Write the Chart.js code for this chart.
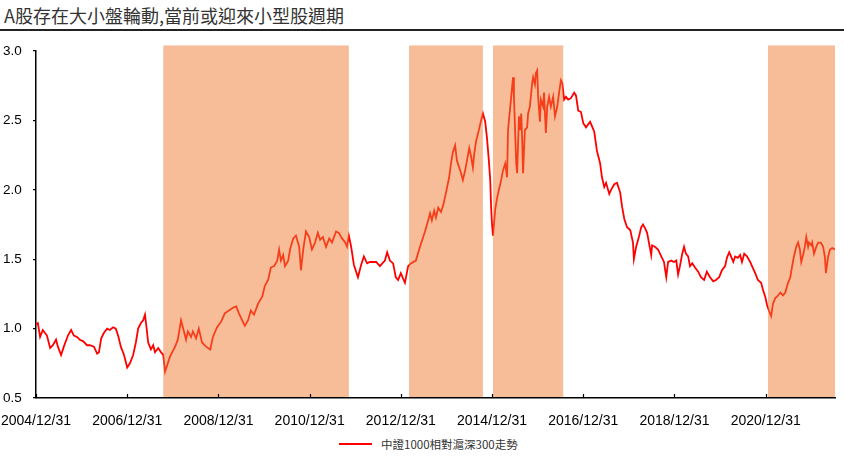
<!DOCTYPE html>
<html lang="zh-Hant">
<head>
  <meta charset="UTF-8" />
  <title>A股存在大小盤輪動,當前或迎來小型股週期</title>
  <script src="https://cdn.jsdelivr.net/npm/chart.js"></script>
  <style>
    html, body { margin: 0; padding: 0; background: #fff; }
    body {
      width: 844px; height: 457px; position: relative; overflow: hidden;
      font-family: 'Noto Sans CJK TC', 'Noto Sans', sans-serif;
    }
    .title {
      position: absolute; left: 4px; top: 4px;
      font-size: 18px; line-height: 22px; color: #333; white-space: nowrap;
    }
    .rule { position: absolute; left: 0; top: 29px; width: 844px; height: 2px; background: #222; }
    .chart-box { position: absolute; left: 0; top: 31px; width: 844px; height: 396px; }
    .legend {
      position: absolute; left: 339px; top: 434px; height: 20px;
      display: flex; align-items: center; font-size: 11.5px; color: #333; white-space: nowrap;
    }
    .legend .swatch { width: 33px; height: 2px; background: #f00; margin-right: 9px; }
  </style>
</head>
<body>

  <div class="title">A股存在大小盤輪動,當前或迎來小型股週期</div>
  <div class="rule"></div>

  <div class="chart-box">
    <canvas id="ratioChart"></canvas>
  </div>

  <div class="legend"><span class="swatch"></span><span id="legendText"></span></div>

  <script>
    // x values are decimal years: 2005.00 = 2004/12/31
    const seriesName = '中證1000相對滬深300走勢';

    const years = [
      2005.00, 2005.04, 2005.09, 2005.15, 2005.24, 2005.31, 2005.37, 2005.44, 2005.48, 2005.55, 2005.61, 2005.70, 2005.77, 2005.83, 2005.90, 2005.96,
      2006.03, 2006.12, 2006.18, 2006.27, 2006.34, 2006.38, 2006.43, 2006.49, 2006.56, 2006.62, 2006.69, 2006.75, 2006.80, 2006.86, 2006.93,
      2007.00, 2007.06, 2007.13, 2007.19, 2007.24, 2007.30, 2007.35, 2007.39, 2007.43, 2007.46, 2007.52, 2007.57, 2007.61, 2007.68, 2007.74, 2007.79, 2007.83, 2007.94,
      2008.05, 2008.11, 2008.18, 2008.22, 2008.29, 2008.33, 2008.40, 2008.44, 2008.51, 2008.57, 2008.64, 2008.73, 2008.82, 2008.88, 2008.97,
      2009.06, 2009.14, 2009.23, 2009.32, 2009.39, 2009.45, 2009.52, 2009.58, 2009.65, 2009.71, 2009.78, 2009.87, 2009.96,
      2010.02, 2010.09, 2010.15, 2010.22, 2010.29, 2010.33, 2010.37, 2010.42, 2010.46, 2010.53, 2010.57, 2010.64, 2010.70, 2010.77, 2010.81, 2010.86, 2010.92, 2010.99,
      2011.05, 2011.12, 2011.18, 2011.23, 2011.29, 2011.36, 2011.43, 2011.49, 2011.58, 2011.64, 2011.71, 2011.78, 2011.82, 2011.86, 2011.91, 2011.97,
      2012.06, 2012.13, 2012.19, 2012.26, 2012.32, 2012.39, 2012.46, 2012.54, 2012.65, 2012.70, 2012.76, 2012.83, 2012.89, 2012.94,
      2013.00, 2013.05, 2013.09, 2013.16, 2013.22, 2013.33, 2013.42, 2013.49, 2013.53, 2013.60, 2013.64, 2013.68, 2013.73, 2013.77, 2013.82, 2013.88, 2013.93, 2013.99,
      2014.06, 2014.10, 2014.14, 2014.19, 2014.23, 2014.28, 2014.32, 2014.36, 2014.41, 2014.45, 2014.50, 2014.54, 2014.58, 2014.61, 2014.65, 2014.71, 2014.76, 2014.80, 2014.85, 2014.89, 2014.93, 2014.96, 2014.98,
      2015.00, 2015.02, 2015.07, 2015.11, 2015.15, 2015.20, 2015.24, 2015.29, 2015.33, 2015.35, 2015.42, 2015.46, 2015.48, 2015.53, 2015.55, 2015.59, 2015.61, 2015.64, 2015.66, 2015.68, 2015.72, 2015.77, 2015.79, 2015.83, 2015.88, 2015.90, 2015.94, 2015.96, 2015.99,
      2016.01, 2016.05, 2016.07, 2016.12, 2016.14, 2016.18, 2016.21, 2016.25, 2016.29, 2016.34, 2016.38, 2016.43, 2016.47, 2016.51, 2016.54, 2016.58, 2016.62, 2016.67, 2016.73, 2016.80, 2016.84, 2016.89, 2016.95,
      2017.00, 2017.06, 2017.15, 2017.24, 2017.30, 2017.37, 2017.41, 2017.46, 2017.50, 2017.57, 2017.61, 2017.68, 2017.74, 2017.81, 2017.85, 2017.90, 2017.96,
      2018.03, 2018.09, 2018.11, 2018.16, 2018.22, 2018.27, 2018.31, 2018.36, 2018.40, 2018.44, 2018.49, 2018.51, 2018.57, 2018.64, 2018.71, 2018.77, 2018.82, 2018.86, 2018.93, 2018.99,
      2019.04, 2019.08, 2019.12, 2019.17, 2019.21, 2019.25, 2019.30, 2019.34, 2019.39, 2019.45, 2019.52, 2019.58, 2019.65, 2019.71, 2019.78, 2019.85, 2019.91, 2019.98,
      2020.04, 2020.11, 2020.15, 2020.20, 2020.24, 2020.29, 2020.33, 2020.39, 2020.44, 2020.48, 2020.53, 2020.59, 2020.66, 2020.70, 2020.77, 2020.83, 2020.90, 2020.94, 2020.99,
      2021.03, 2021.07, 2021.12, 2021.16, 2021.21, 2021.25, 2021.32, 2021.38, 2021.43, 2021.49, 2021.54, 2021.58, 2021.62, 2021.67, 2021.71, 2021.75, 2021.78, 2021.82, 2021.86, 2021.89, 2021.93, 2021.95, 2022.00,
      2022.02, 2022.06, 2022.11, 2022.15, 2022.21, 2022.26, 2022.30, 2022.32, 2022.37, 2022.41, 2022.46, 2022.52
    ];

    const ratio = [
      1.03, 1.04, 0.94, 0.99, 0.95, 0.86, 0.88, 0.92, 0.87, 0.81, 0.87, 0.95, 0.99, 0.95, 0.94, 0.92,
      0.91, 0.88, 0.88, 0.87, 0.82, 0.83, 0.93, 0.97, 1.00, 0.99, 1.01, 1.00, 0.95, 0.87, 0.81,
      0.72, 0.75, 0.81, 0.90, 1.00, 1.04, 1.06, 1.10, 0.99, 0.90, 0.85, 0.88, 0.83, 0.86, 0.83, 0.81, 0.69, 0.80,
      0.87, 0.92, 1.06, 1.01, 0.92, 0.98, 0.94, 0.98, 0.93, 1.00, 0.90, 0.87, 0.85, 0.94, 1.01,
      1.05, 1.11, 1.13, 1.15, 1.16, 1.11, 1.06, 1.02, 1.06, 1.13, 1.10, 1.18, 1.23,
      1.31, 1.35, 1.44, 1.45, 1.49, 1.57, 1.49, 1.53, 1.45, 1.49, 1.57, 1.65, 1.67, 1.59, 1.42, 1.57, 1.70, 1.66,
      1.57, 1.62, 1.69, 1.64, 1.66, 1.59, 1.65, 1.62, 1.70, 1.69, 1.65, 1.62, 1.59, 1.67, 1.59, 1.46,
      1.37, 1.46, 1.52, 1.47, 1.48, 1.48, 1.48, 1.45, 1.49, 1.55, 1.49, 1.47, 1.37, 1.35,
      1.40, 1.36, 1.33, 1.45, 1.47, 1.49, 1.59, 1.66, 1.70, 1.78, 1.83, 1.78, 1.85, 1.80, 1.87, 1.84, 1.89, 1.98,
      2.09, 2.19, 2.27, 2.32, 2.21, 2.16, 2.12, 2.07, 2.14, 2.21, 2.30, 2.24, 2.16, 2.26, 2.35, 2.43, 2.50, 2.55, 2.49, 2.37, 2.21, 2.07, 1.87,
      1.75, 1.67, 1.86, 1.94, 2.00, 2.07, 2.14, 2.19, 2.09, 2.43, 2.67, 2.81, 2.67, 2.19, 2.12, 2.53, 2.43, 2.55, 2.36, 2.12, 2.43, 2.45, 2.55, 2.60, 2.77, 2.81, 2.76, 2.84, 2.86,
      2.67, 2.49, 2.65, 2.60, 2.70, 2.41, 2.60, 2.67, 2.60, 2.67, 2.53, 2.60, 2.70, 2.79, 2.77, 2.65, 2.67, 2.65, 2.66, 2.70, 2.68, 2.57, 2.56,
      2.48, 2.45, 2.49, 2.42, 2.28, 2.19, 2.09, 2.02, 2.05, 1.97, 2.00, 2.04, 2.05, 1.98, 1.88, 1.79, 1.73,
      1.71, 1.62, 1.50, 1.59, 1.66, 1.73, 1.75, 1.72, 1.69, 1.62, 1.53, 1.60, 1.59, 1.57, 1.52, 1.48, 1.37, 1.48, 1.49, 1.48,
      1.49, 1.39, 1.45, 1.54, 1.59, 1.54, 1.52, 1.45, 1.47, 1.44, 1.41, 1.37, 1.35, 1.41, 1.37, 1.34, 1.35, 1.37,
      1.42, 1.45, 1.51, 1.55, 1.52, 1.48, 1.52, 1.51, 1.53, 1.48, 1.54, 1.52, 1.48, 1.45, 1.40, 1.35, 1.33, 1.28, 1.23,
      1.17, 1.13, 1.09, 1.18, 1.22, 1.23, 1.26, 1.24, 1.26, 1.33, 1.37, 1.45, 1.52, 1.59, 1.62, 1.57, 1.48, 1.53, 1.59, 1.66, 1.59, 1.62, 1.60,
      1.62, 1.54, 1.59, 1.62, 1.62, 1.59, 1.51, 1.40, 1.52, 1.57, 1.58, 1.57
    ];

    // small-cap cycles (shaded)
    const cycleStart = [2007.79, 2013.18, 2015.02, 2021.05];
    const cycleEnd   = [2011.86, 2014.80, 2016.56, 2022.52];
    const shadeTop = 3.04;

    const tickYears  = [2005, 2007, 2009, 2011, 2013, 2015, 2017, 2019, 2021];
    const tickLabels = ['2004/12/31', '2006/12/31', '2008/12/31', '2010/12/31', '2012/12/31',
                        '2014/12/31', '2016/12/31', '2018/12/31', '2020/12/31'];
    const yTicks = [0.5, 1.0, 1.5, 2.0, 2.5, 3.0];

    document.getElementById('legendText').textContent = seriesName;

    // peach bands drawn over the line, plus inward x ticks
    const cyclePlugin = {
      id: 'cycles',
      afterDatasetsDraw(chart) {
        const { ctx, chartArea, scales: { x, y } } = chart;
        ctx.save();
        ctx.fillStyle = 'rgba(239,124,52,0.5)';
        const top = y.getPixelForValue(shadeTop);
        for (let i = 0; i < cycleStart.length; i++) {
          const x1 = x.getPixelForValue(cycleStart[i]);
          const x2 = x.getPixelForValue(cycleEnd[i]);
          ctx.fillRect(x1, top, x2 - x1, chartArea.bottom - 1 - top);
        }
        ctx.restore();
      },
      afterDraw(chart) {
        const { ctx, chartArea, scales: { x } } = chart;
        ctx.save();
        ctx.strokeStyle = '#000';
        ctx.lineWidth = 1.2;
        x.ticks.forEach(t => {
          const px = Math.round(x.getPixelForValue(t.value)) + 0.5;
          ctx.beginPath();
          ctx.moveTo(px, chartArea.bottom);
          ctx.lineTo(px, chartArea.bottom - 4);
          ctx.stroke();
        });
        ctx.restore();
      }
    };

    const axisFont = { family: "'Liberation Sans', Arial, sans-serif", size: 14 };

    new Chart(document.getElementById('ratioChart'), {
      type: 'line',
      data: {
        datasets: [{
          label: seriesName,
          data: years.map((v, i) => ({ x: v, y: ratio[i] })),
          borderColor: '#ff0000',
          borderWidth: 1.8,
          pointRadius: 0,
          tension: 0
        }]
      },
      options: {
        responsive: true,
        maintainAspectRatio: false,
        animation: false,
        layout: { autoPadding: false, padding: { top: 20, right: 9, left: 3, bottom: 0 } },
        plugins: {
          legend: { display: false },
          tooltip: { enabled: false }
        },
        scales: {
          x: {
            type: 'linear',
            min: years[0],
            max: years[years.length - 1],
            afterBuildTicks: s => { s.ticks = tickYears.map(v => ({ value: v })); },
            afterFit: s => { s.height = 29; s.paddingLeft = 0; s.paddingRight = 0; },
            grid: { display: false },
            border: { color: '#000', width: 1.5 },
            ticks: {
              autoSkip: false, maxRotation: 0, padding: 7, color: '#000', font: axisFont,
              callback: (v, i) => tickLabels[i]
            }
          },
          y: {
            min: 0.5,
            max: 3.0,
            afterBuildTicks: s => { s.ticks = yTicks.map(v => ({ value: v })); },
            afterFit: s => { s.width = 33; },
            grid: { drawOnChartArea: false, drawTicks: true, tickLength: 3, color: '#000', lineWidth: 1.2 },
            border: { color: '#000', width: 1.5 },
            ticks: {
              crossAlign: 'far', padding: 0, color: '#000',
              font: { family: axisFont.family, size: 13.5 },
              callback: v => v.toFixed(1)
            }
          }
        }
      },
      plugins: [cyclePlugin]
    });
  </script>
</body>
</html>
